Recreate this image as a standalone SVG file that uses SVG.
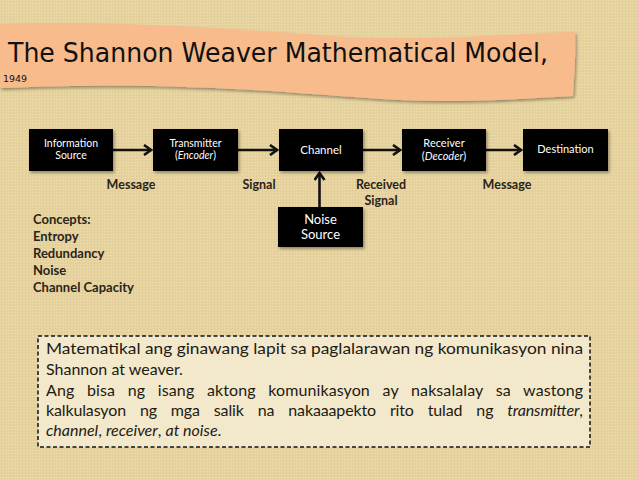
<svg xmlns="http://www.w3.org/2000/svg" width="638" height="479" viewBox="0 0 638 479">
<defs>
<style>
.box{fill:#000;}
.bt{font-family:Lato,"Liberation Sans",sans-serif;font-size:10.5px;fill:#fff;text-anchor:middle;}
.lbl{font-family:Lato,"Liberation Sans",sans-serif;font-size:12.5px;font-weight:bold;fill:#2a2419;text-anchor:middle;}
.con{font-family:Lato,"Liberation Sans",sans-serif;font-size:13px;font-weight:bold;fill:#2a2419;}
.body{font-family:Lato,"Liberation Sans",sans-serif;font-size:16px;fill:#1e1a14;}
.arr{stroke:#111;stroke-width:2.6;fill:none;marker-end:url(#ah);}
</style>
<marker id="ah" markerWidth="10" markerHeight="12" refX="8" refY="6" orient="auto" markerUnits="userSpaceOnUse">
<path d="M1,1 L8,6 L1,11" fill="none" stroke="#111" stroke-width="2.6"/>
</marker>
<filter id="sh" x="-10%" y="-10%" width="130%" height="140%">
<feDropShadow dx="1.5" dy="2" stdDeviation="1.5" flood-color="#000" flood-opacity="0.35"/>
</filter>
<pattern id="tex" width="6" height="6" patternUnits="userSpaceOnUse">
<rect width="6" height="6" fill="#e6d29e"/>
<path d="M0,0.5H6M0,3.5H6" stroke="#eedfb1" stroke-width="0.8"/>
<path d="M1.5,0V6M4.5,0V6" stroke="#dcc78e" stroke-width="0.5"/>
</pattern>
</defs>
<rect width="638" height="479" fill="#e6d29e"/>
<rect width="638" height="479" fill="url(#tex)" opacity="0.7"/>

<g id="banner">
<path d="M0,24 C120,20 250,30 330,36 C430,42 520,33 575,32 C576,55 574,78 573,96 C520,99 460,103 400,100 C300,95 200,80 0,88 Z" fill="#f8bb8b" filter="url(#sh)"/>
<text x="8" y="62" font-family="'DejaVu Sans',sans-serif" font-size="26" fill="#111" textLength="540" lengthAdjust="spacingAndGlyphs">The Shannon Weaver Mathematical Model,</text>
<text x="3" y="82" font-family="'DejaVu Sans',sans-serif" font-size="9" fill="#111" textLength="24" lengthAdjust="spacingAndGlyphs">1949</text>
</g>

<g id="connectors">
<line class="arr" x1="113" y1="150" x2="151" y2="150"/>
<line class="arr" x1="238" y1="150" x2="277" y2="150"/>
<line class="arr" x1="363" y1="150" x2="400" y2="150"/>
<line class="arr" x1="486" y1="150" x2="521" y2="150"/>
<line class="arr" x1="319.5" y1="207" x2="319.5" y2="173"/>
</g>

<g id="info-source">
<rect class="box" x="29" y="129" width="84" height="42" filter="url(#sh)"/>
<text class="bt" x="71" y="147">Information</text>
<text class="bt" x="71" y="159">Source</text>
</g>
<g id="transmitter">
<rect class="box" x="153" y="129" width="85" height="42" filter="url(#sh)"/>
<text class="bt" x="195.5" y="147">Transmitter</text>
<text class="bt" x="195.5" y="159">(<tspan font-style="italic">Encoder</tspan>)</text>
</g>
<g id="channel">
<rect class="box" x="279" y="129" width="84" height="42" filter="url(#sh)"/>
<text class="bt" x="321" y="154" style="font-size:11.5px">Channel</text>
</g>
<g id="receiver">
<rect class="box" x="402" y="129" width="84" height="42" filter="url(#sh)"/>
<text class="bt" x="444" y="147" style="font-size:11px">Receiver</text>
<text class="bt" x="444" y="160" style="font-size:11px">(<tspan font-style="italic">Decoder</tspan>)</text>
</g>
<g id="destination">
<rect class="box" x="523" y="129" width="85" height="42" filter="url(#sh)"/>
<text class="bt" x="565.5" y="153" style="font-size:11px">Destination</text>
</g>
<g id="noise-source">
<rect class="box" x="278" y="207" width="85" height="40" filter="url(#sh)"/>
<text class="bt" x="320.5" y="224" style="font-size:13px">Noise</text>
<text class="bt" x="320.5" y="239" style="font-size:13px">Source</text>
</g>

<g id="labels">
<text class="lbl" x="131" y="189">Message</text>
<text class="lbl" x="259" y="189">Signal</text>
<text class="lbl" x="381" y="189">Received</text>
<text class="lbl" x="381" y="205">Signal</text>
<text class="lbl" x="507" y="189">Message</text>
</g>

<g id="concepts">
<text class="con" x="33" y="224">Concepts:</text>
<text class="con" x="33" y="241">Entropy</text>
<text class="con" x="33" y="258">Redundancy</text>
<text class="con" x="33" y="275">Noise</text>
<text class="con" x="33" y="292">Channel Capacity</text>
</g>

<g id="description">
<rect x="38" y="336" width="552" height="111" fill="#f4ecd2" fill-opacity="0.85" stroke="#111" stroke-width="1.5" stroke-dasharray="4,2.5"/>
<text class="body" x="46" y="354" textLength="537" lengthAdjust="spacingAndGlyphs">Matematikal ang ginawang lapit sa paglalarawan ng komunikasyon nina</text>
<text class="body" x="46" y="375">Shannon at weaver.</text>
<text class="body" x="46" y="396" word-spacing="8.5" textLength="537" lengthAdjust="spacing">Ang bisa ng isang aktong komunikasyon ay naksalalay sa wastong</text>
<text class="body" x="46" y="416" word-spacing="10" textLength="537" lengthAdjust="spacing">kalkulasyon ng mga salik na nakaaapekto rito tulad ng <tspan font-style="italic">transmitter</tspan>,</text>
<text class="body" x="46" y="436"><tspan font-style="italic">channel</tspan>, <tspan font-style="italic">receiver</tspan>, <tspan font-style="italic">at noise</tspan>.</text>
</g>
</svg>
